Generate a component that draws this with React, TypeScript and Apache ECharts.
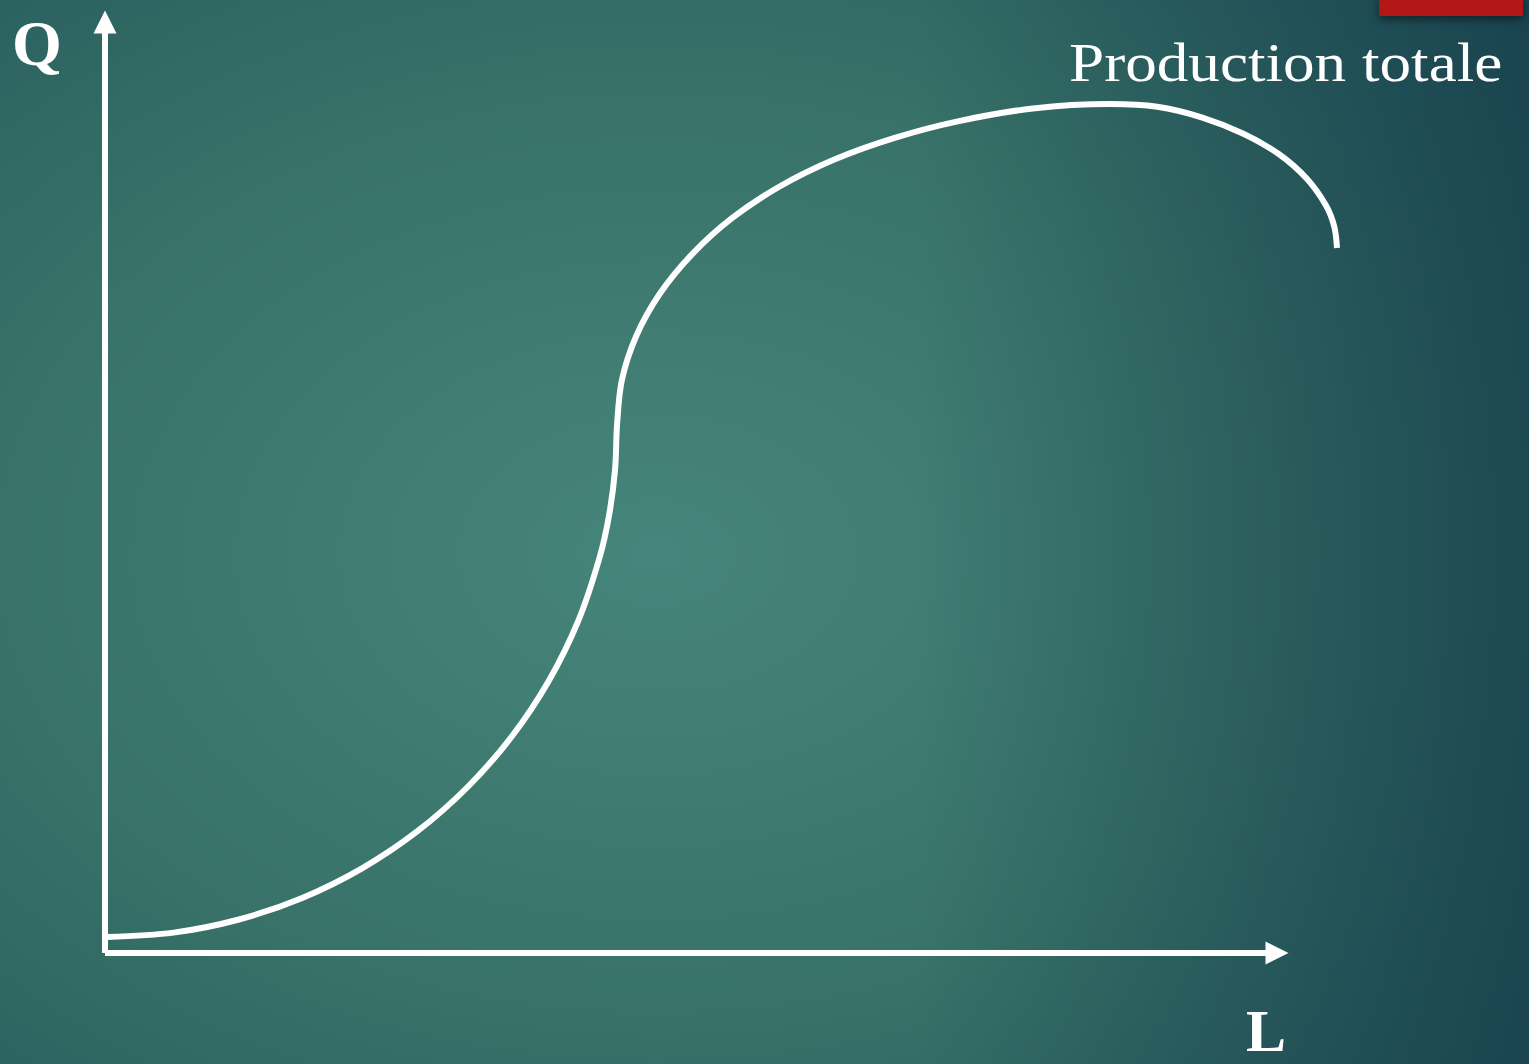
import React, { useEffect, useRef } from "react";
import * as echarts from "echarts";

// Labour input (L) and total output (Q)
const laborL = [0.17, 5.85, 11.43, 16.83, 21.93, 26.66, 30.94, 34.69, 37.86, 40.38, 42.2, 43.03, 43.52, 43.69, 44.1, 45.32, 47.32, 50.08, 53.52, 57.6, 62.23, 67.31, 72.76, 79.17, 85.75, 89.78, 93.63, 97.13, 100.15, 102.53, 104.17, 104.88, 105.12];
const outputQ = [1.72, 2.19, 3.6, 5.91, 9.09, 13.08, 17.83, 23.23, 29.22, 35.67, 42.48, 47.16, 51.92, 56.71, 61.53, 66.25, 70.78, 75.04, 78.95, 82.36, 85.23, 87.53, 89.33, 90.71, 91.19, 90.9, 89.74, 88.0, 85.82, 83.19, 80.32, 78.06, 75.73];

const curveLabel = "Production totale";
const yAxisName = "Q";
const xAxisName = "L";

const ARROW = "path://M5,0 L10,10 L0,10 Z";

export default function App() {
  const ref = useRef<HTMLDivElement>(null);
  useEffect(() => {
    document.body.style.margin = "0";
    if (!ref.current) return;
    const chart = echarts.init(ref.current, undefined, { renderer: "svg" });
    const data = laborL.map((l, i) => [l, outputQ[i]]);
    const visibleAxis = (gridIndex: number) => ({
      type: "value" as const,
      gridIndex,
      min: 0,
      max: 100,
      axisLine: {
        show: true,
        onZero: false,
        symbol: ["none", ARROW],
        symbolSize: [23, 23],
        lineStyle: { color: "#ffffff", width: 6, cap: "butt" },
      },
      axisTick: { show: false },
      axisLabel: { show: false },
      splitLine: { show: false },
    });
    const hiddenAxis = (gridIndex: number, max: number) => ({
      type: "value" as const,
      gridIndex,
      min: 0,
      max,
      show: false,
      axisLine: { show: false },
      axisTick: { show: false },
      axisLabel: { show: false },
      splitLine: { show: false },
    });
    chart.setOption({
      animation: false,
      grid: [
        { left: 105, right: 252, top: 22, bottom: 111, containLabel: false },
        // same scale as the first grid, extended to L = 110 so the curve can pass the arrow
        { left: 105, right: 134.8, top: 22, bottom: 111, containLabel: false },
      ],
      xAxis: [visibleAxis(0), hiddenAxis(1, 110)],
      yAxis: [visibleAxis(0), hiddenAxis(1, 100)],
      graphic: [
        {
          type: "rect",
          z: -100,
          silent: true,
          shape: { x: 0, y: 0, width: 1529, height: 1064 },
          style: {
            fill: {
              type: "radial",
              x: 0.43,
              y: 0.52,
              r: 0.95,
              colorStops: [
                { offset: 0, color: "#46857b" },
                { offset: 0.45, color: "#387268" },
                { offset: 0.8, color: "#275c5e" },
                { offset: 1, color: "#1c4b54" },
              ],
            },
          },
        },
        {
          type: "rect",
          z: -99,
          silent: true,
          shape: { x: 0, y: 0, width: 1529, height: 1064 },
          style: {
            fill: {
              type: "linear",
              x: 0,
              y: 0,
              x2: 1,
              y2: 0,
              colorStops: [
                { offset: 0, color: "rgba(16,52,70,0)" },
                { offset: 0.6, color: "rgba(16,52,70,0)" },
                { offset: 1, color: "rgba(16,52,70,0.6)" },
              ],
            },
          },
        },
        {
          type: "rect",
          z: 10,
          shape: { x: 1379, y: -4, width: 144, height: 20 },
          style: {
            fill: "#b21816",
            shadowBlur: 10,
            shadowOffsetY: 3,
            shadowColor: "rgba(0,0,0,0.55)",
          },
        },
        {
          type: "text",
          z: 10,
          x: 37,
          y: 43,
          style: {
            text: yAxisName,
            fill: "#ffffff",
            font: "bold 64px 'Liberation Serif', serif",
            lineHeight: 50,
            align: "center",
            verticalAlign: "middle",
          },
        },
        {
          type: "text",
          z: 10,
          x: 1266,
          y: 1031,
          style: {
            text: xAxisName,
            fill: "#ffffff",
            font: "bold 60px 'Liberation Serif', serif",
            lineHeight: 44,
            align: "center",
            verticalAlign: "middle",
          },
        },
        {
          type: "text",
          z: 10,
          x: 1069,
          y: 63,
          scaleX: 1.17,
          style: {
            text: curveLabel,
            fill: "#ffffff",
            font: "54px 'Liberation Serif', serif",
            align: "left",
            verticalAlign: "middle",
          },
        },
      ],
      series: [
        {
          type: "line",
          xAxisIndex: 1,
          yAxisIndex: 1,
          data,
          smooth: 0.33,
          clip: false,
          showSymbol: false,
          symbol: "none",
          lineStyle: { color: "#ffffff", width: 6, cap: "butt" },
          z: 5,
        },
      ],
    });
    return () => chart.dispose();
  }, []);
  return (
    <div
      ref={ref}
      style={{ position: "fixed", left: 0, top: 0, width: 1529, height: 1064 }}
    />
  );
}
